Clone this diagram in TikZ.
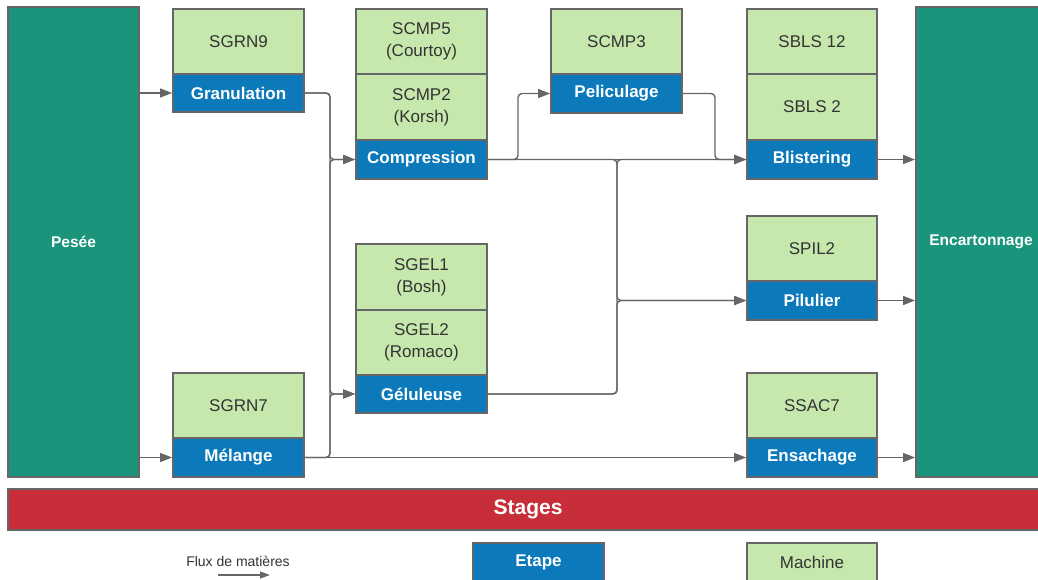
\documentclass[tikz,border=0pt]{standalone}
\usepackage{fontspec}
\setmainfont{Liberation Sans}
\usetikzlibrary{arrows.meta}
\definecolor{linegray}{HTML}{666666}
\definecolor{tealbox}{HTML}{1A957C}
\definecolor{machgreen}{HTML}{C6E8AD}
\definecolor{etblue}{HTML}{0B79BA}
\definecolor{stagered}{HTML}{C82D3A}
\definecolor{txtgray}{HTML}{333333}
\tikzset{
  cell/.style={draw=linegray, line width=1.8pt, inner sep=0pt, align=center},
  machine/.style={cell, fill=machgreen, text=txtgray, minimum width=131pt,
    font=\fontsize{17}{22}\selectfont},
  etape/.style={cell, fill=etblue, text=white, minimum width=131pt, minimum height=39pt,
    font=\fontsize{17}{20}\selectfont\bfseries},
  bigstep/.style={cell, fill=tealbox, text=white, minimum width=131pt, minimum height=470pt,
    font=\fontsize{15.5}{18}\selectfont\bfseries},
  flow/.style={draw=linegray, line width=1.4pt, rounded corners=4pt,
    -{Triangle[length=12pt,width=9pt]}},
}
\begin{document}
\begin{tikzpicture}[x=1pt,y=-1pt]
\useasboundingbox (0,0) rectangle (1038,580);

% end stations
\node[bigstep] (pesee) at (73.5,242) {Pesée};
\node[bigstep, minimum width=130pt] (enc) at (981,242) {Encartonnage};

% granulation / melange
\node[machine, minimum height=65pt] (sgrn9) at (238.5,41.5) {SGRN9};
\node[etape, minimum height=38pt] (gran) at (238.5,93) {Granulation};
\node[machine, minimum height=65pt] (sgrn7) at (238.5,405.5) {SGRN7};
\node[etape] (mel) at (238.5,457.5) {Mélange};

% compression
\node[machine, minimum height=65pt] (scmp5) at (421.5,41.5) {SCMP5\\(Courtoy)};
\node[machine, minimum height=66pt] (scmp2) at (421.5,107) {SCMP2\\(Korsh)};
\node[etape] (comp) at (421.5,159.5) {Compression};

% geluleuse
\node[machine, minimum height=66pt] (sgel1) at (421.5,277) {SGEL1\\(Bosh)};
\node[machine, minimum height=65pt] (sgel2) at (421.5,342.5) {SGEL2\\(Romaco)};
\node[etape, minimum height=38pt] (gel) at (421.5,394) {Géluleuse};

% peliculage
\node[machine, minimum height=65pt] (scmp3) at (616.5,41.5) {SCMP3};
\node[etape] (pel) at (616.5,93.5) {Peliculage};

% blistering / pilulier / ensachage
\node[machine, minimum width=130pt, minimum height=65pt] (sbls12) at (812,41.5) {SBLS 12};
\node[machine, minimum width=130pt, minimum height=66pt] (sbls2) at (812,107) {SBLS 2};
\node[etape, minimum width=130pt] (blis) at (812,159.5) {Blistering};
\node[machine, minimum width=130pt, minimum height=65pt] (spil2) at (812,248.5) {SPIL2};
\node[etape, minimum width=130pt] (pil) at (812,300.5) {Pilulier};
\node[machine, minimum width=130pt, minimum height=65pt] (ssac7) at (812,405.5) {SSAC7};
\node[etape, minimum width=130pt] (ens) at (812,457.5) {Ensachage};

% stages banner
\node[cell, fill=stagered, text=white, minimum width=1040pt, minimum height=41pt,
  font=\fontsize{21}{24}\selectfont\bfseries] (stages) at (528,509.5) {Stages};

% legend
\node[font=\fontsize{14}{16}\selectfont, text=txtgray] (fluxlbl) at (238,561) {Flux de matières};
\coordinate (fluxa) at (218,575);
\coordinate (fluxb) at (270,575);
\draw[flow, line width=1.2pt, -{Triangle[length=10pt,width=7pt]}] (fluxa) -- (fluxb);
\node[etape] (legetape) at (538.5,562.5) {Etape};
\node[machine, minimum width=130pt, minimum height=39pt] (legmach) at (812,562.5) {Machine};

% bus lines
\coordinate (busA) at (330,0);
\coordinate (busB) at (518,0);
\coordinate (busC) at (617,0);
\coordinate (busD) at (715,0);

% material flow
\draw[flow] (pesee.east |- gran.west) -- (gran.west);
\draw[flow] (pesee.east |- mel.west) -- (mel.west);
\draw[flow] (gran.east) -- (gran.east -| busA) |- (comp.west);
\draw[flow] (gran.east) -- (gran.east -| busA) |- (gel.west);
\draw[flow] (mel.east) -- (mel.east -| busA) |- (comp.west);
\draw[flow] (mel.east) -- (mel.east -| busA) |- (gel.west);
\draw[flow] (mel.east) -- (ens.west);
\draw[flow] (comp.east) -- (comp.east -| busB) |- (pel.west);
\draw[flow] (comp.east) -- (blis.west);
\draw[flow] (pel.east) -- (pel.east -| busD) |- (blis.west);
\draw[flow] (comp.east) -- (comp.east -| busC) |- (pil.west);
\draw[flow] (gel.east) -- (gel.east -| busC) |- (blis.west);
\draw[flow] (gel.east) -- (gel.east -| busC) |- (pil.west);
\draw[flow] (blis.east) -- (blis.east -| enc.west);
\draw[flow] (pil.east) -- (pil.east -| enc.west);
\draw[flow] (ens.east) -- (ens.east -| enc.west);
\end{tikzpicture}
\end{document}
